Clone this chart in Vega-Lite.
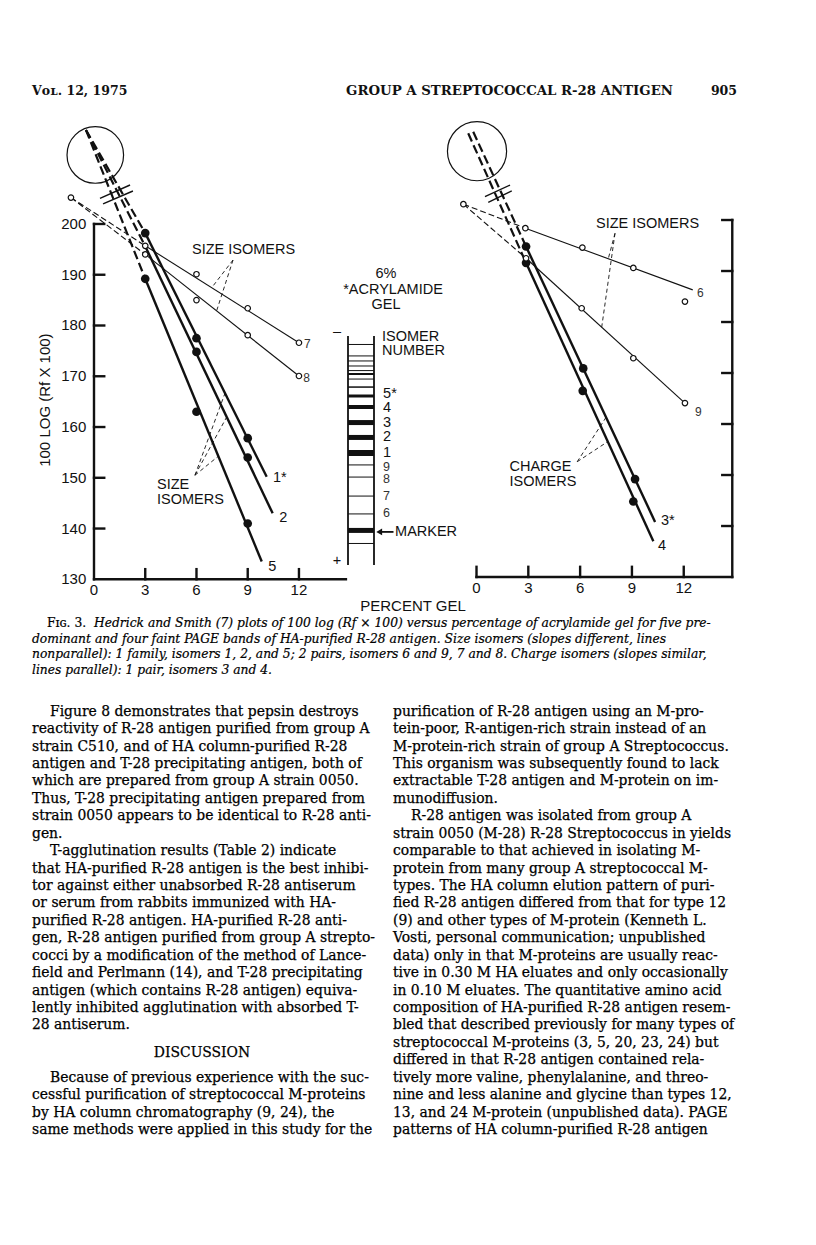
{
  "$schema": "https://vega.github.io/schema/vega-lite/v6.json",
  "width": 816,
  "height": 1245,
  "padding": 0,
  "autosize": {"type": "none"},
  "background": "white",
  "config": {"view": {"stroke": null}},
  "datasets": {
    "lp_seg": [
      {"k": "axis", "x": 0, "y": 130, "x2": 0, "y2": 200},
      {"k": "axis", "x": 0, "y": 200, "x2": 0.6, "y2": 200},
      {"k": "axis", "x": 0, "y": 190, "x2": 0.6, "y2": 190},
      {"k": "axis", "x": 0, "y": 180, "x2": 0.6, "y2": 180},
      {"k": "axis", "x": 0, "y": 170, "x2": 0.6, "y2": 170},
      {"k": "axis", "x": 0, "y": 160, "x2": 0.6, "y2": 160},
      {"k": "axis", "x": 0, "y": 150, "x2": 0.6, "y2": 150},
      {"k": "axis", "x": 0, "y": 140, "x2": 0.6, "y2": 140},
      {"k": "axis", "x": 0, "y": 130, "x2": 14.75, "y2": 130},
      {"k": "axis", "x": 3, "y": 130, "x2": 3, "y2": 132},
      {"k": "axis", "x": 6, "y": 130, "x2": 6, "y2": 132},
      {"k": "axis", "x": 9, "y": 130, "x2": 9, "y2": 132},
      {"k": "axis", "x": 12, "y": 130, "x2": 12, "y2": 132},
      {"k": "thick", "x": 3, "y": 198.2, "x2": 10.11, "y2": 150.2},
      {"k": "thick", "x": 3, "y": 195.6, "x2": 10.46, "y2": 143.0},
      {"k": "thick", "x": 3, "y": 189.2, "x2": 9.82, "y2": 133.5},
      {"k": "thin", "x": 3, "y": 195.7, "x2": 12, "y2": 176.6},
      {"k": "thin", "x": 3, "y": 194.0, "x2": 12, "y2": 170.05},
      {"k": "dash", "x": -0.47, "y": 218.5, "x2": 3, "y2": 198.2},
      {"k": "dash", "x": -0.47, "y": 218.5, "x2": 3, "y2": 195.6},
      {"k": "dash", "x": -0.47, "y": 218.5, "x2": 3, "y2": 189.2},
      {"k": "dashthin", "x": -1.35, "y": 205.2, "x2": 3, "y2": 195.7},
      {"k": "dashthin", "x": -1.35, "y": 205.2, "x2": 3, "y2": 194.0},
      {"k": "ptr", "x": 8.14, "y": 192.9, "x2": 6.89, "y2": 187.45},
      {"k": "ptr", "x": 8.14, "y": 192.9, "x2": 7.18, "y2": 182.9},
      {"k": "ptr", "x": 5.91, "y": 150.5, "x2": 7.67, "y2": 166.67},
      {"k": "ptr", "x": 5.91, "y": 150.5, "x2": 7.77, "y2": 161.97},
      {"k": "ptr", "x": 5.91, "y": 150.5, "x2": 7.28, "y2": 154.25},
      {"k": "brk", "x": 0.35, "y": 205.06, "x2": 2.11, "y2": 207.68},
      {"k": "brk", "x": 0.53, "y": 203.94, "x2": 2.28, "y2": 206.5}
    ],
    "lp_pts": [
      {"k": "c", "x": 0.076, "y": 213.6},
      {"k": "f", "x": 3, "y": 198.2},
      {"k": "f", "x": 3, "y": 189.2},
      {"k": "f", "x": 6, "y": 177.5},
      {"k": "f", "x": 6, "y": 174.8},
      {"k": "f", "x": 6, "y": 163.0},
      {"k": "f", "x": 9, "y": 157.8},
      {"k": "f", "x": 9, "y": 154.0},
      {"k": "f", "x": 9, "y": 141.0},
      {"k": "o", "x": 3, "y": 195.7},
      {"k": "o", "x": 3, "y": 194.0},
      {"k": "o", "x": 6, "y": 190.1},
      {"k": "o", "x": 6, "y": 185.0},
      {"k": "o", "x": 9, "y": 183.4},
      {"k": "o", "x": 9, "y": 178.1},
      {"k": "o", "x": 12, "y": 176.6},
      {"k": "o", "x": 12, "y": 170.05},
      {"k": "o", "x": -1.35, "y": 205.2}
    ],
    "lp_txt": [
      {"k": "yl", "t": "200", "x": -0.45, "y": 200},
      {"k": "yl", "t": "190", "x": -0.45, "y": 190},
      {"k": "yl", "t": "180", "x": -0.45, "y": 180},
      {"k": "yl", "t": "170", "x": -0.45, "y": 170},
      {"k": "yl", "t": "160", "x": -0.45, "y": 160},
      {"k": "yl", "t": "150", "x": -0.45, "y": 150},
      {"k": "yl", "t": "140", "x": -0.45, "y": 140},
      {"k": "yl", "t": "130", "x": -0.45, "y": 130},
      {"k": "xl", "t": "0", "x": 0, "y": 127.9},
      {"k": "xl", "t": "3", "x": 3, "y": 127.9},
      {"k": "xl", "t": "6", "x": 6, "y": 127.9},
      {"k": "xl", "t": "9", "x": 9, "y": 127.9},
      {"k": "xl", "t": "12", "x": 12, "y": 127.9},
      {"k": "sl", "t": "1*", "x": 10.48, "y": 149.9},
      {"k": "sl", "t": "2", "x": 10.85, "y": 142.0},
      {"k": "sl", "t": "5", "x": 10.2, "y": 132.5},
      {"k": "sl2", "t": "7", "x": 12.3, "y": 176.4},
      {"k": "sl2", "t": "8", "x": 12.25, "y": 169.6},
      {"k": "ann", "t": "SIZE ISOMERS", "x": 5.74, "y": 194.9},
      {"k": "ann", "t": "SIZE", "x": 3.69, "y": 148.6},
      {"k": "ann", "t": "ISOMERS", "x": 3.69, "y": 145.6},
      {"k": "title", "t": "100 LOG (Rf X 100)", "x": -2.87, "y": 165.3},
      {"k": "ctr", "t": "PERCENT GEL", "x": 18.68, "y": 124.74}
    ],
    "rp_seg": [
      {"k": "axis", "x": 0, "y": 130, "x2": 14.81, "y2": 130},
      {"k": "axis", "x": 0, "y": 130, "x2": 0, "y2": 132},
      {"k": "axis", "x": 3, "y": 130, "x2": 3, "y2": 132},
      {"k": "axis", "x": 6, "y": 130, "x2": 6, "y2": 132},
      {"k": "axis", "x": 9, "y": 130, "x2": 9, "y2": 132},
      {"k": "axis", "x": 12, "y": 130, "x2": 12, "y2": 132},
      {"k": "axis", "x": 14.81, "y": 130, "x2": 14.81, "y2": 200},
      {"k": "axis", "x": 14.81, "y": 200, "x2": 14.23, "y2": 200},
      {"k": "axis", "x": 14.81, "y": 190, "x2": 14.23, "y2": 190},
      {"k": "axis", "x": 14.81, "y": 180, "x2": 14.23, "y2": 180},
      {"k": "axis", "x": 14.81, "y": 170, "x2": 14.23, "y2": 170},
      {"k": "axis", "x": 14.81, "y": 160, "x2": 14.23, "y2": 160},
      {"k": "axis", "x": 14.81, "y": 150, "x2": 14.23, "y2": 150},
      {"k": "axis", "x": 14.81, "y": 140, "x2": 14.23, "y2": 140},
      {"k": "thick", "x": 2.87, "y": 194.8, "x2": 10.34, "y2": 140.8},
      {"k": "thick", "x": 2.87, "y": 191.6, "x2": 10.24, "y2": 137.0},
      {"k": "thin", "x": 2.83, "y": 198.4, "x2": 12.52, "y2": 186.3},
      {"k": "thin", "x": 2.87, "y": 192.5, "x2": 12.07, "y2": 164.1},
      {"k": "dash", "x": -0.19, "y": 217.3, "x2": 2.87, "y2": 194.8},
      {"k": "dash", "x": -0.48, "y": 217.0, "x2": 2.87, "y2": 191.6},
      {"k": "dashthin", "x": -0.76, "y": 203.1, "x2": 2.83, "y2": 198.4},
      {"k": "dashthin", "x": -0.76, "y": 203.1, "x2": 2.87, "y2": 192.5},
      {"k": "ptr", "x": 8.02, "y": 197.4, "x2": 7.63, "y2": 192.4},
      {"k": "ptr", "x": 8.02, "y": 197.4, "x2": 7.25, "y2": 179.0},
      {"k": "ptr", "x": 5.83, "y": 152.6, "x2": 7.5, "y2": 161.3},
      {"k": "ptr", "x": 5.83, "y": 152.6, "x2": 7.6, "y2": 156.55},
      {"k": "brk", "x": 0.49, "y": 204.57, "x2": 1.94, "y2": 206.86},
      {"k": "brk", "x": 0.68, "y": 203.47, "x2": 2.04, "y2": 205.69}
    ],
    "rp_pts": [
      {"k": "c", "x": 0.03, "y": 213.5},
      {"k": "f", "x": 2.87, "y": 194.8},
      {"k": "f", "x": 2.87, "y": 191.6},
      {"k": "f", "x": 6.18, "y": 170.9},
      {"k": "f", "x": 6.15, "y": 166.5},
      {"k": "f", "x": 9.18, "y": 149.2},
      {"k": "f", "x": 9.08, "y": 144.8},
      {"k": "o", "x": -0.76, "y": 203.1},
      {"k": "o", "x": 2.83, "y": 198.4},
      {"k": "o", "x": 6.13, "y": 194.6},
      {"k": "o", "x": 9.08, "y": 190.6},
      {"k": "o", "x": 12.07, "y": 184.0},
      {"k": "o", "x": 2.87, "y": 192.5},
      {"k": "o", "x": 6.09, "y": 182.7},
      {"k": "o", "x": 9.08, "y": 172.9},
      {"k": "o", "x": 12.07, "y": 164.1}
    ],
    "rp_txt": [
      {"k": "xl", "t": "0", "x": 0, "y": 127.84},
      {"k": "xl", "t": "3", "x": 3, "y": 127.84},
      {"k": "xl", "t": "6", "x": 6, "y": 127.84},
      {"k": "xl", "t": "9", "x": 9, "y": 127.84},
      {"k": "xl", "t": "12", "x": 12, "y": 127.84},
      {"k": "sl", "t": "3*", "x": 10.68, "y": 141.0},
      {"k": "sl", "t": "4", "x": 10.51, "y": 136.1},
      {"k": "sl2", "t": "6", "x": 12.77, "y": 185.6},
      {"k": "sl2", "t": "9", "x": 12.65, "y": 162.4},
      {"k": "ann", "t": "SIZE ISOMERS", "x": 6.92, "y": 199.2},
      {"k": "ann", "t": "CHARGE", "x": 1.91, "y": 151.6},
      {"k": "ann", "t": "ISOMERS", "x": 1.91, "y": 148.7}
    ],
    "gel_seg": [
      {"k": "wall", "x": 0, "y": 0, "x2": 0, "y2": 1},
      {"k": "wall", "x": 1, "y": 0, "x2": 1, "y2": 1},
      {"k": "arrow", "x": 1.75, "y": 0.8555, "x2": 1.3, "y2": 0.8555}
    ],
    "gel_bands": [
      {"x": 0, "x2": 1, "y": 0.037, "d": 1},
      {"x": 0, "x2": 1, "y": 0.087, "d": 1},
      {"x": 0, "x2": 1, "y": 0.109, "d": 1},
      {"x": 0, "x2": 1, "y": 0.131, "d": 1},
      {"x": 0, "x2": 1, "y": 0.151, "d": 1},
      {"x": 0, "x2": 1, "y": 0.166, "d": 2},
      {"x": 0, "x2": 1, "y": 0.188, "d": 1},
      {"x": 0, "x2": 1, "y": 0.223, "d": 1.5},
      {"x": 0, "x2": 1, "y": 0.262, "d": 3},
      {"x": 0, "x2": 1, "y": 0.310, "d": 4},
      {"x": 0, "x2": 1, "y": 0.378, "d": 5},
      {"x": 0, "x2": 1, "y": 0.443, "d": 5},
      {"x": 0, "x2": 1, "y": 0.511, "d": 6},
      {"x": 0, "x2": 1, "y": 0.563, "d": 1},
      {"x": 0, "x2": 1, "y": 0.616, "d": 1},
      {"x": 0, "x2": 1, "y": 0.699, "d": 1},
      {"x": 0, "x2": 1, "y": 0.777, "d": 1},
      {"x": 0, "x2": 1, "y": 0.849, "d": 5},
      {"x": 0, "x2": 1, "y": 0.906, "d": 1}
    ],
    "gel_txt": [
      {"k": "ctr", "t": "6%", "x": 1.46, "y": -0.271},
      {"k": "ctr", "t": "*ACRYLAMIDE", "x": 1.73, "y": -0.201},
      {"k": "ctr", "t": "GEL", "x": 1.46, "y": -0.135},
      {"k": "ctr", "t": "–", "x": -0.423, "y": -0.0175},
      {"k": "ctr", "t": "+", "x": -0.423, "y": 0.9825},
      {"k": "lab", "t": "ISOMER", "x": 1.31, "y": 0.004},
      {"k": "lab", "t": "NUMBER", "x": 1.31, "y": 0.066},
      {"k": "lab", "t": "5*", "x": 1.35, "y": 0.253},
      {"k": "lab", "t": "4", "x": 1.35, "y": 0.316},
      {"k": "lab", "t": "3", "x": 1.35, "y": 0.379},
      {"k": "lab", "t": "2", "x": 1.35, "y": 0.442},
      {"k": "lab", "t": "1", "x": 1.35, "y": 0.510},
      {"k": "faint", "t": "9", "x": 1.35, "y": 0.571},
      {"k": "faint", "t": "8", "x": 1.35, "y": 0.626},
      {"k": "faint", "t": "7", "x": 1.35, "y": 0.699},
      {"k": "faint", "t": "6", "x": 1.35, "y": 0.774},
      {"k": "lab", "t": "MARKER", "x": 1.81, "y": 0.855}
    ],
    "gel_arrowhead": [{"x": 1.2, "y": 0.8555}],
    "header": [
      {"k": "left", "t": "Vᴏʟ. 12, 1975", "p": 0, "l": 1},
      {"k": "title", "t": "GROUP A STREPTOCOCCAL R-28 ANTIGEN", "p": 1, "l": 1},
      {"k": "folio", "t": "905", "p": 1, "l": 1}
    ],
    "caption": [
      {"k": "fig", "l": 1, "t": "Fɪɢ. 3."},
      {"k": "first", "l": 1, "t": "Hedrick and Smith (7) plots of 100 log (Rf × 100) versus percentage of acrylamide gel for five pre-"},
      {"k": "it", "l": 2, "t": "dominant and four faint PAGE bands of HA-purified R-28 antigen. Size isomers (slopes different, lines"},
      {"k": "it", "l": 3, "t": "nonparallel): 1 family, isomers 1, 2, and 5; 2 pairs, isomers 6 and 9, 7 and 8. Charge isomers (slopes similar,"},
      {"k": "it", "l": 4, "t": "lines parallel): 1 pair, isomers 3 and 4."}
    ],
    "body": [
      {"c": 0, "l": 1, "k": "i", "t": "Figure 8 demonstrates that pepsin destroys"},
      {"c": 0, "l": 2, "k": "p", "t": "reactivity of R-28 antigen purified from group A"},
      {"c": 0, "l": 3, "k": "p", "t": "strain C510, and of HA column-purified R-28"},
      {"c": 0, "l": 4, "k": "p", "t": "antigen and T-28 precipitating antigen, both of"},
      {"c": 0, "l": 5, "k": "p", "t": "which are prepared from group A strain 0050."},
      {"c": 0, "l": 6, "k": "p", "t": "Thus, T-28 precipitating antigen prepared from"},
      {"c": 0, "l": 7, "k": "p", "t": "strain 0050 appears to be identical to R-28 anti-"},
      {"c": 0, "l": 8, "k": "p", "t": "gen."},
      {"c": 0, "l": 9, "k": "i", "t": "T-agglutination results (Table 2) indicate"},
      {"c": 0, "l": 10, "k": "p", "t": "that HA-purified R-28 antigen is the best inhibi-"},
      {"c": 0, "l": 11, "k": "p", "t": "tor against either unabsorbed R-28 antiserum"},
      {"c": 0, "l": 12, "k": "p", "t": "or serum from rabbits immunized with HA-"},
      {"c": 0, "l": 13, "k": "p", "t": "purified R-28 antigen. HA-purified R-28 anti-"},
      {"c": 0, "l": 14, "k": "p", "t": "gen, R-28 antigen purified from group A strepto-"},
      {"c": 0, "l": 15, "k": "p", "t": "cocci by a modification of the method of Lance-"},
      {"c": 0, "l": 16, "k": "p", "t": "field and Perlmann (14), and T-28 precipitating"},
      {"c": 0, "l": 17, "k": "p", "t": "antigen (which contains R-28 antigen) equiva-"},
      {"c": 0, "l": 18, "k": "p", "t": "lently inhibited agglutination with absorbed T-"},
      {"c": 0, "l": 19, "k": "p", "t": "28 antiserum."},
      {"c": 0, "l": 20.6, "k": "h", "t": "DISCUSSION"},
      {"c": 0, "l": 22, "k": "i", "t": "Because of previous experience with the suc-"},
      {"c": 0, "l": 23, "k": "p", "t": "cessful purification of streptococcal M-proteins"},
      {"c": 0, "l": 24, "k": "p", "t": "by HA column chromatography (9, 24), the"},
      {"c": 0, "l": 25, "k": "p", "t": "same methods were applied in this study for the"},
      {"c": 1, "l": 1, "k": "p", "t": "purification of R-28 antigen using an M-pro-"},
      {"c": 1, "l": 2, "k": "p", "t": "tein-poor, R-antigen-rich strain instead of an"},
      {"c": 1, "l": 3, "k": "p", "t": "M-protein-rich strain of group A Streptococcus."},
      {"c": 1, "l": 4, "k": "p", "t": "This organism was subsequently found to lack"},
      {"c": 1, "l": 5, "k": "p", "t": "extractable T-28 antigen and M-protein on im-"},
      {"c": 1, "l": 6, "k": "p", "t": "munodiffusion."},
      {"c": 1, "l": 7, "k": "i", "t": "R-28 antigen was isolated from group A"},
      {"c": 1, "l": 8, "k": "p", "t": "strain 0050 (M-28) R-28 Streptococcus in yields"},
      {"c": 1, "l": 9, "k": "p", "t": "comparable to that achieved in isolating M-"},
      {"c": 1, "l": 10, "k": "p", "t": "protein from many group A streptococcal M-"},
      {"c": 1, "l": 11, "k": "p", "t": "types. The HA column elution pattern of puri-"},
      {"c": 1, "l": 12, "k": "p", "t": "fied R-28 antigen differed from that for type 12"},
      {"c": 1, "l": 13, "k": "p", "t": "(9) and other types of M-protein (Kenneth L."},
      {"c": 1, "l": 14, "k": "p", "t": "Vosti, personal communication; unpublished"},
      {"c": 1, "l": 15, "k": "p", "t": "data) only in that M-proteins are usually reac-"},
      {"c": 1, "l": 16, "k": "p", "t": "tive in 0.30 M HA eluates and only occasionally"},
      {"c": 1, "l": 17, "k": "p", "t": "in 0.10 M eluates. The quantitative amino acid"},
      {"c": 1, "l": 18, "k": "p", "t": "composition of HA-purified R-28 antigen resem-"},
      {"c": 1, "l": 19, "k": "p", "t": "bled that described previously for many types of"},
      {"c": 1, "l": 20, "k": "p", "t": "streptococcal M-proteins (3, 5, 20, 23, 24) but"},
      {"c": 1, "l": 21, "k": "p", "t": "differed in that R-28 antigen contained rela-"},
      {"c": 1, "l": 22, "k": "p", "t": "tively more valine, phenylalanine, and threo-"},
      {"c": 1, "l": 23, "k": "p", "t": "nine and less alanine and glycine than types 12,"},
      {"c": 1, "l": 24, "k": "p", "t": "13, and 24 M-protein (unpublished data). PAGE"},
      {"c": 1, "l": 25, "k": "p", "t": "patterns of HA column-purified R-28 antigen"}
    ]
  },
  "layer": [
    {
      "encoding": {
        "x": {"field": "x", "type": "quantitative", "scale": {"domain": [-5.5035, 42.2717], "nice": false, "zero": false}, "axis": null},
        "y": {"field": "y", "type": "quantitative", "scale": {"domain": [-1.147, 244.125], "nice": false, "zero": false}, "axis": null}
      },
      "layer": [
        {"data": {"name": "lp_seg"}, "transform": [{"filter": "datum.k == 'axis'"}], "mark": {"type": "rule", "color": "#111", "strokeWidth": 2.4, "strokeCap": "square"}, "encoding": {"x2": {"field": "x2"}, "y2": {"field": "y2"}}},
        {"data": {"name": "lp_seg"}, "transform": [{"filter": "datum.k == 'thick'"}], "mark": {"type": "rule", "color": "#111", "strokeWidth": 2.4}, "encoding": {"x2": {"field": "x2"}, "y2": {"field": "y2"}}},
        {"data": {"name": "lp_seg"}, "transform": [{"filter": "datum.k == 'thin'"}], "mark": {"type": "rule", "color": "#111", "strokeWidth": 1.1}, "encoding": {"x2": {"field": "x2"}, "y2": {"field": "y2"}}},
        {"data": {"name": "lp_seg"}, "transform": [{"filter": "datum.k == 'dash'"}], "mark": {"type": "rule", "color": "#111", "strokeWidth": 2.2, "strokeDash": [9, 4]}, "encoding": {"x2": {"field": "x2"}, "y2": {"field": "y2"}}},
        {"data": {"name": "lp_seg"}, "transform": [{"filter": "datum.k == 'dashthin'"}], "mark": {"type": "rule", "color": "#111", "strokeWidth": 1.1, "strokeDash": [6, 3]}, "encoding": {"x2": {"field": "x2"}, "y2": {"field": "y2"}}},
        {"data": {"name": "lp_seg"}, "transform": [{"filter": "datum.k == 'ptr'"}], "mark": {"type": "rule", "color": "#111", "strokeWidth": 0.9, "strokeDash": [4, 3]}, "encoding": {"x2": {"field": "x2"}, "y2": {"field": "y2"}}},
        {"data": {"name": "lp_seg"}, "transform": [{"filter": "datum.k == 'brk'"}], "mark": {"type": "rule", "color": "#111", "strokeWidth": 1.4}, "encoding": {"x2": {"field": "x2"}, "y2": {"field": "y2"}}},
        {"data": {"name": "lp_pts"}, "transform": [{"filter": "datum.k == 'c'"}], "mark": {"type": "point", "shape": "circle", "size": 3200, "filled": false, "stroke": "#111", "strokeWidth": 1.2, "opacity": 1}},
        {"data": {"name": "lp_pts"}, "transform": [{"filter": "datum.k == 'f'"}], "mark": {"type": "point", "shape": "circle", "size": 75, "filled": true, "color": "#111", "opacity": 1}},
        {"data": {"name": "lp_pts"}, "transform": [{"filter": "datum.k == 'o'"}], "mark": {"type": "point", "shape": "circle", "size": 30, "filled": true, "fill": "white", "stroke": "#111", "strokeWidth": 1.2, "opacity": 1}},
        {"data": {"name": "lp_txt"}, "transform": [{"filter": "datum.k == 'yl'"}], "mark": {"type": "text", "align": "right", "baseline": "middle", "font": "Liberation Sans", "fontSize": 15, "color": "#111"}, "encoding": {"text": {"field": "t"}}},
        {"data": {"name": "lp_txt"}, "transform": [{"filter": "datum.k == 'xl' || datum.k == 'ctr'"}], "mark": {"type": "text", "align": "center", "baseline": "middle", "font": "Liberation Sans", "fontSize": 15, "color": "#111"}, "encoding": {"text": {"field": "t"}}},
        {"data": {"name": "lp_txt"}, "transform": [{"filter": "datum.k == 'sl' || datum.k == 'ann'"}], "mark": {"type": "text", "align": "left", "baseline": "middle", "font": "Liberation Sans", "fontSize": 14.5, "color": "#111"}, "encoding": {"text": {"field": "t"}}},
        {"data": {"name": "lp_txt"}, "transform": [{"filter": "datum.k == 'sl2'"}], "mark": {"type": "text", "align": "left", "baseline": "middle", "font": "Liberation Sans", "fontSize": 12, "color": "#333"}, "encoding": {"text": {"field": "t"}}},
        {"data": {"name": "lp_txt"}, "transform": [{"filter": "datum.k == 'title'"}], "mark": {"type": "text", "align": "center", "baseline": "middle", "angle": 270, "font": "Liberation Sans", "fontSize": 15, "color": "#111"}, "encoding": {"text": {"field": "t"}}}
      ]
    },
    {
      "encoding": {
        "x": {"field": "x", "type": "quantitative", "scale": {"domain": [-27.591, 19.658], "nice": false, "zero": false}, "axis": null},
        "y": {"field": "y", "type": "quantitative", "scale": {"domain": [-0.98, 243.14], "nice": false, "zero": false}, "axis": null}
      },
      "layer": [
        {"data": {"name": "rp_seg"}, "transform": [{"filter": "datum.k == 'axis'"}], "mark": {"type": "rule", "color": "#111", "strokeWidth": 2.4, "strokeCap": "square"}, "encoding": {"x2": {"field": "x2"}, "y2": {"field": "y2"}}},
        {"data": {"name": "rp_seg"}, "transform": [{"filter": "datum.k == 'thick'"}], "mark": {"type": "rule", "color": "#111", "strokeWidth": 2.4}, "encoding": {"x2": {"field": "x2"}, "y2": {"field": "y2"}}},
        {"data": {"name": "rp_seg"}, "transform": [{"filter": "datum.k == 'thin'"}], "mark": {"type": "rule", "color": "#111", "strokeWidth": 1.1}, "encoding": {"x2": {"field": "x2"}, "y2": {"field": "y2"}}},
        {"data": {"name": "rp_seg"}, "transform": [{"filter": "datum.k == 'dash'"}], "mark": {"type": "rule", "color": "#111", "strokeWidth": 2.2, "strokeDash": [9, 4]}, "encoding": {"x2": {"field": "x2"}, "y2": {"field": "y2"}}},
        {"data": {"name": "rp_seg"}, "transform": [{"filter": "datum.k == 'dashthin'"}], "mark": {"type": "rule", "color": "#111", "strokeWidth": 1.1, "strokeDash": [6, 3]}, "encoding": {"x2": {"field": "x2"}, "y2": {"field": "y2"}}},
        {"data": {"name": "rp_seg"}, "transform": [{"filter": "datum.k == 'ptr'"}], "mark": {"type": "rule", "color": "#111", "strokeWidth": 0.9, "strokeDash": [4, 3]}, "encoding": {"x2": {"field": "x2"}, "y2": {"field": "y2"}}},
        {"data": {"name": "rp_seg"}, "transform": [{"filter": "datum.k == 'brk'"}], "mark": {"type": "rule", "color": "#111", "strokeWidth": 1.4}, "encoding": {"x2": {"field": "x2"}, "y2": {"field": "y2"}}},
        {"data": {"name": "rp_pts"}, "transform": [{"filter": "datum.k == 'c'"}], "mark": {"type": "point", "shape": "circle", "size": 3500, "filled": false, "stroke": "#111", "strokeWidth": 1.2, "opacity": 1}},
        {"data": {"name": "rp_pts"}, "transform": [{"filter": "datum.k == 'f'"}], "mark": {"type": "point", "shape": "circle", "size": 75, "filled": true, "color": "#111", "opacity": 1}},
        {"data": {"name": "rp_pts"}, "transform": [{"filter": "datum.k == 'o'"}], "mark": {"type": "point", "shape": "circle", "size": 30, "filled": true, "fill": "white", "stroke": "#111", "strokeWidth": 1.2, "opacity": 1}},
        {"data": {"name": "rp_txt"}, "transform": [{"filter": "datum.k == 'xl'"}], "mark": {"type": "text", "align": "center", "baseline": "middle", "font": "Liberation Sans", "fontSize": 15, "color": "#111"}, "encoding": {"text": {"field": "t"}}},
        {"data": {"name": "rp_txt"}, "transform": [{"filter": "datum.k == 'sl' || datum.k == 'ann'"}], "mark": {"type": "text", "align": "left", "baseline": "middle", "font": "Liberation Sans", "fontSize": 14.5, "color": "#111"}, "encoding": {"text": {"field": "t"}}},
        {"data": {"name": "rp_txt"}, "transform": [{"filter": "datum.k == 'sl2'"}], "mark": {"type": "text", "align": "left", "baseline": "middle", "font": "Liberation Sans", "fontSize": 12, "color": "#333"}, "encoding": {"text": {"field": "t"}}}
      ]
    },
    {
      "encoding": {
        "x": {"field": "x", "type": "quantitative", "scale": {"domain": [-13.3846, 18.0], "nice": false, "zero": false}, "axis": null},
        "y": {"field": "y", "type": "quantitative", "scale": {"domain": [-1.46725, 3.96943], "nice": false, "zero": false, "reverse": true}, "axis": null}
      },
      "layer": [
        {"data": {"name": "gel_seg"}, "mark": {"type": "rule", "color": "#111", "strokeWidth": 1.8}, "encoding": {"x2": {"field": "x2"}, "y2": {"field": "y2"}}},
        {"data": {"name": "gel_bands"}, "mark": {"type": "rule", "color": "#111"}, "encoding": {"x2": {"field": "x2"}, "strokeWidth": {"field": "d", "type": "quantitative", "scale": {"domain": [1, 6], "range": [1, 6]}, "legend": null}}},
        {"data": {"name": "gel_arrowhead"}, "mark": {"type": "point", "shape": "triangle-left", "size": 45, "filled": true, "color": "#111", "opacity": 1}},
        {"data": {"name": "gel_txt"}, "transform": [{"filter": "datum.k == 'ctr'"}], "mark": {"type": "text", "align": "center", "baseline": "middle", "font": "Liberation Sans", "fontSize": 14.5, "color": "#111"}, "encoding": {"text": {"field": "t"}}},
        {"data": {"name": "gel_txt"}, "transform": [{"filter": "datum.k == 'lab'"}], "mark": {"type": "text", "align": "left", "baseline": "middle", "font": "Liberation Sans", "fontSize": 14.5, "color": "#111"}, "encoding": {"text": {"field": "t"}}},
        {"data": {"name": "gel_txt"}, "transform": [{"filter": "datum.k == 'faint'"}], "mark": {"type": "text", "align": "left", "baseline": "middle", "font": "Liberation Sans", "fontSize": 12.5, "color": "#333"}, "encoding": {"text": {"field": "t"}}}
      ]
    },
    {
      "data": {"name": "header"},
      "encoding": {
        "x": {"field": "p", "type": "quantitative", "scale": {"domain": [-0.04539, 1.11206], "nice": false, "zero": false}, "axis": null},
        "y": {"field": "l", "type": "quantitative", "scale": {"domain": [-4.2, 66.943], "nice": false, "zero": false, "reverse": true}, "axis": null},
        "text": {"field": "t"}
      },
      "layer": [
        {"transform": [{"filter": "datum.k == 'left'"}], "mark": {"type": "text", "align": "left", "baseline": "middle", "font": "DejaVu Serif", "fontSize": 12.5, "fontWeight": "bold", "color": "#111"}},
        {"transform": [{"filter": "datum.k == 'title'"}], "mark": {"type": "text", "align": "right", "baseline": "middle", "dx": -64, "font": "DejaVu Serif", "fontSize": 13.3, "fontWeight": "bold", "color": "#111"}},
        {"transform": [{"filter": "datum.k == 'folio'"}], "mark": {"type": "text", "align": "right", "baseline": "middle", "font": "DejaVu Serif", "fontSize": 12.5, "fontWeight": "bold", "color": "#111"}}
      ]
    },
    {
      "data": {"name": "caption"},
      "encoding": {
        "x": {"datum": 0, "type": "quantitative", "scale": {"domain": [-0.04539, 1.11206], "nice": false, "zero": false}, "axis": null},
        "y": {"field": "l", "type": "quantitative", "scale": {"domain": [-38.9359, 40.8718], "nice": false, "zero": false, "reverse": true}, "axis": null},
        "text": {"field": "t"}
      },
      "layer": [
        {"transform": [{"filter": "datum.k == 'fig'"}], "mark": {"type": "text", "align": "left", "baseline": "middle", "dx": 15, "font": "DejaVu Serif", "fontSize": 12.3, "color": "#000", "stroke": "#000", "strokeWidth": 0.2}},
        {"transform": [{"filter": "datum.k == 'first'"}], "mark": {"type": "text", "align": "left", "baseline": "middle", "dx": 62, "font": "DejaVu Serif", "fontStyle": "italic", "fontSize": 12.3, "color": "#000", "stroke": "#000", "strokeWidth": 0.2}},
        {"transform": [{"filter": "datum.k == 'it'"}], "mark": {"type": "text", "align": "left", "baseline": "middle", "font": "DejaVu Serif", "fontStyle": "italic", "fontSize": 12.3, "color": "#000", "stroke": "#000", "strokeWidth": 0.2}}
      ]
    },
    {
      "data": {"name": "body"},
      "encoding": {
        "x": {"field": "c", "type": "quantitative", "scale": {"domain": [-0.08864, 2.17175], "nice": false, "zero": false}, "axis": null},
        "y": {"field": "l", "type": "quantitative", "scale": {"domain": [-39.832, 31.597], "nice": false, "zero": false, "reverse": true}, "axis": null},
        "text": {"field": "t"}
      },
      "layer": [
        {"transform": [{"filter": "datum.k == 'p'"}], "mark": {"type": "text", "align": "left", "baseline": "middle", "font": "DejaVu Serif", "fontSize": 13.9, "color": "#000", "stroke": "#000", "strokeWidth": 0.25}},
        {"transform": [{"filter": "datum.k == 'i'"}], "mark": {"type": "text", "align": "left", "baseline": "middle", "dx": 18, "font": "DejaVu Serif", "fontSize": 13.9, "color": "#000", "stroke": "#000", "strokeWidth": 0.25}},
        {"transform": [{"filter": "datum.k == 'h'"}], "mark": {"type": "text", "align": "center", "baseline": "middle", "dx": 170, "font": "DejaVu Serif", "fontSize": 13.9, "color": "#000", "stroke": "#000", "strokeWidth": 0.25}}
      ]
    }
  ],
  "resolve": {"scale": {"x": "independent", "y": "independent"}}
}
